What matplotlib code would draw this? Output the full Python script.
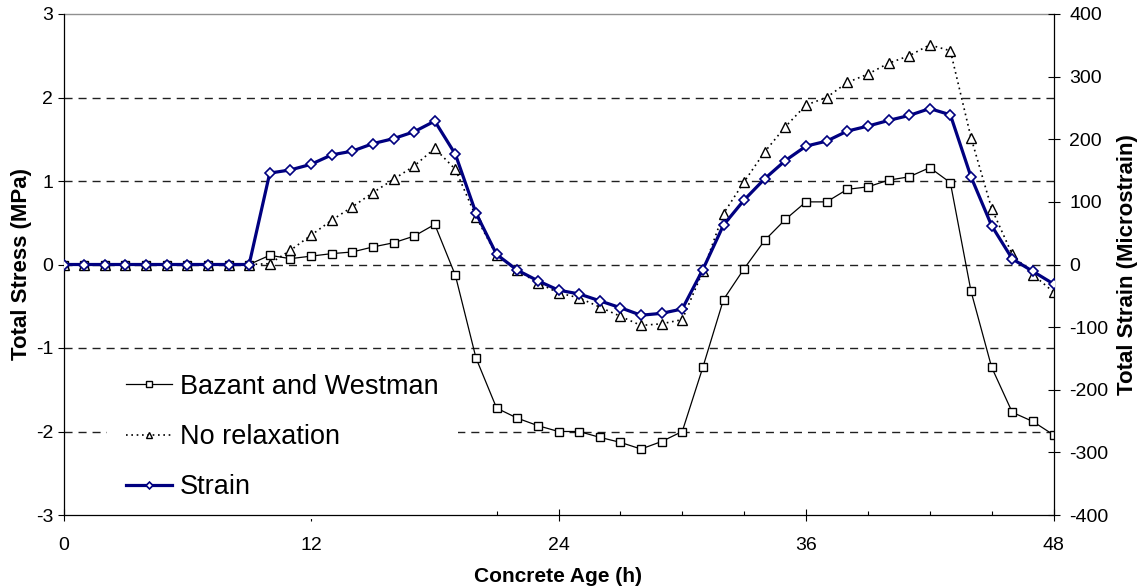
import matplotlib
matplotlib.use("Agg")
import matplotlib.pyplot as plt
from matplotlib.ticker import MultipleLocator

plt.rcParams['font.family'] = ['Liberation Sans', 'DejaVu Sans']
plt.rcParams['axes.unicode_minus'] = False

hours = list(range(0, 49))

bazant = [0, 0, 0, 0, 0, 0, 0, 0, 0, 0,
          0.11, 0.07, 0.10, 0.13, 0.15, 0.21, 0.26, 0.34, 0.48, -0.13,
          -1.12, -1.72, -1.84, -1.93, -2.00, -2.00, -2.07, -2.13, -2.21, -2.12,
          -2.00, -1.23, -0.42, -0.05, 0.29, 0.54, 0.75, 0.75, 0.90, 0.93,
          1.01, 1.05, 1.16, 0.98, -0.32, -1.23, -1.77, -1.88, -2.04]

no_relax = [0, 0, 0, 0, 0, 0, 0, 0, 0, 0,
            0.01, 0.17, 0.35, 0.53, 0.69, 0.86, 1.02, 1.18, 1.39, 1.14,
            0.57, 0.11, -0.07, -0.22, -0.34, -0.40, -0.51, -0.62, -0.73, -0.71,
            -0.66, -0.08, 0.61, 0.99, 1.35, 1.65, 1.91, 2.00, 2.18, 2.28,
            2.41, 2.50, 2.63, 2.56, 1.52, 0.67, 0.12, -0.12, -0.33]

strain = [0, 0, 0, 0, 0, 0, 0, 0, 0, 0,
          146, 151, 160, 175, 181, 193, 201, 212, 229, 176,
          82, 16, -9, -26, -41, -47, -58, -69, -81, -78,
          -71, -8, 63, 103, 137, 166, 189, 197, 213, 221,
          230, 238, 249, 239, 140, 62, 9, -11, -31]

grid_levels = [-2, -1, 0, 1, 2]
x_ticks = [0, 12, 24, 36, 48]

W, H = 1140, 588
fig = plt.figure(figsize=(W / 100, H / 100), dpi=100)
L, R, T, B = 63.5, 1053.5, 14, 515
ax = fig.add_axes([L / W, (H - B) / H, (R - L) / W, (B - T) / H])

for g in grid_levels:
    ax.axhline(g, color='#202020', lw=1.0, dashes=(5.8, 4.3), zorder=1)

l1, = ax.plot(hours, bazant, color='black', lw=0.9, marker='s', ms=6.2,
              mfc='white', mec='black', mew=1.0, zorder=3,
              label='Bazant and Westman')
l2, = ax.plot(hours, no_relax, color='black', lw=1.2, ls=(0, (1, 2.2)),
              marker='^', ms=7.0, mfc='white', mec='black', mew=1.0, zorder=3,
              label='No relaxation')

ax.set_xlim(0, 48)
ax.set_ylim(-3, 3)
ax.set_xticks(x_ticks)
ax.xaxis.set_minor_locator(MultipleLocator(3))
ax.set_yticks([-3, -2, -1, 0, 1, 2, 3])

ax.tick_params(axis='y', which='major', direction='out', length=4.5, width=0.8,
               labelsize=14, pad=3)
ax.tick_params(axis='x', which='major', direction='inout', length=8, width=0.8,
               labelsize=14, pad=12)
ax.tick_params(axis='x', which='minor', direction='in', length=3, width=0.8)

for s in ['left', 'bottom']:
    ax.spines[s].set_color('black')
    ax.spines[s].set_linewidth(0.9)
    ax.spines[s].set_zorder(6)
ax.spines['top'].set_color('#909090')
ax.spines['top'].set_linewidth(1.0)
ax.spines['right'].set_visible(False)

ax.set_xlabel('Concrete Age (h)', fontsize=15, fontweight='bold', labelpad=9)
ax.set_ylabel('Total Stress (MPa)', fontsize=16, fontweight='bold', labelpad=3)

ax2 = ax.twinx()
l3, = ax2.plot(hours, strain, color='#000080', lw=2.3, marker='D', ms=5.0,
               mfc='white', mec='#000080', mew=1.2, zorder=4, label='Strain')
ax2.set_ylim(-400, 400)
ax2.set_yticks(range(-400, 401, 100))
ax2.tick_params(axis='y', direction='inout', length=8.6, width=0.8,
                labelsize=14, pad=7)
ax2.spines['right'].set_color('black')
ax2.spines['right'].set_linewidth(0.9)
ax2.spines['top'].set_visible(False)
ax2.spines['left'].set_visible(False)
ax2.spines['bottom'].set_visible(False)
ax2.set_ylabel('Total Strain (Microstrain)', fontsize=16, fontweight='bold',
               labelpad=6)

leg = ax.legend(handles=[l1, l2, l3], loc='center left',
                bbox_to_anchor=(107 / W, (H - 437) / H),
                bbox_transform=fig.transFigure, fontsize=19.5,
                frameon=True, facecolor='white', edgecolor='none',
                framealpha=1.0, fancybox=False, borderpad=0.7,
                borderaxespad=0, handlelength=1.7, handletextpad=0.3,
                labelspacing=0.9, markerscale=0.7)
leg.set_zorder(2)

fig.savefig('out.png', dpi=100)
